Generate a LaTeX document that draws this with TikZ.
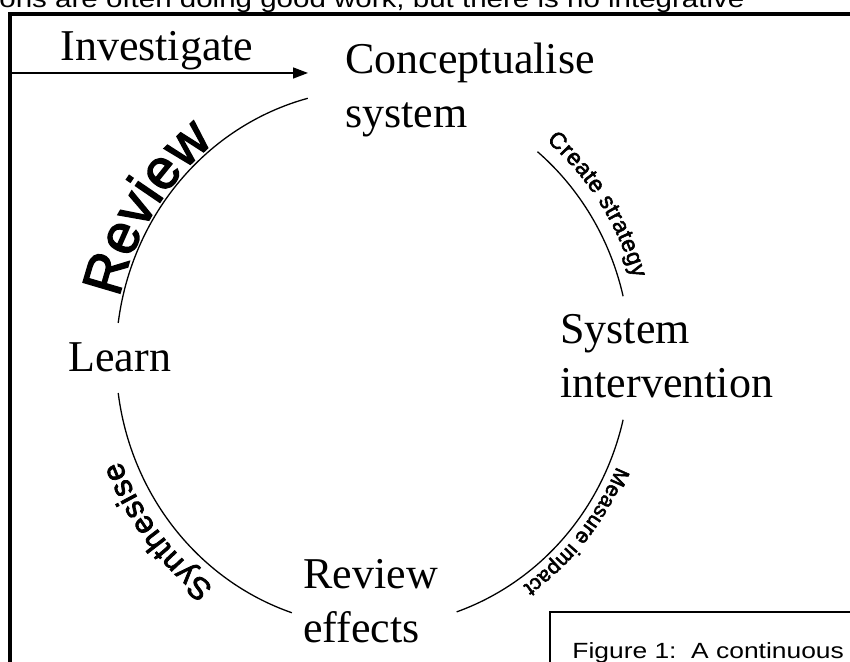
\documentclass[tikz,border=0pt]{standalone}
\usepackage{fontspec}
\setmainfont{Liberation Serif}
\newfontfamily\wafont[FakeBold=2.5]{Liberation Sans}
\newfontfamily\docfont[FakeStretch=1.2]{Liberation Sans}
\usetikzlibrary{positioning}
\usetikzlibrary{arrows.meta}
\usetikzlibrary{decorations.text}
\tikzset{stage/.style={anchor=base west,inner sep=0pt,align=left,font=\fontsize{22}{27}\selectfont}}
\tikzset{flow/.style={-{Triangle[length=7.5pt,width=5.5pt]},line width=0.75pt}}
\tikzset{cyc/.style={x radius=128.5pt,y radius=134.25pt}}
\tikzset{wordart/.style={decorate,decoration={text along path,text align=center,#1}}}
\tikzset{doc/.style={anchor=base west,inner sep=0pt}}

\begin{document}
\begin{tikzpicture}[x=0.5pt,y=0.5pt]
\useasboundingbox (0,0) rectangle (850,662);
\clip (0,0) rectangle (850,662);
\fill[white] (0,0) rectangle (850,662);

% page text and frames
\node[doc,font=\docfont\fontsize{12.3}{14}\selectfont] (top) at (-1,654) {ons are often doing good work, but there is no integrative};
\draw[line width=1.75pt] (10,648) rectangle (900,-60);
\draw[line width=0.7pt] (550,50) rectangle (900,-60);
\node[doc,font=\docfont\fontsize{11}{13}\selectfont] (caption) at (572,3) {Figure 1:\ \ A continuous};

% stages (base = last line)
\node[stage] (invest) at (60,601) {Investigate};
\node[stage] (concept) at (345,534) {Conceptualise\\system};
\node[stage] (sysint) at (560,264) {System\\intervention};
\node[stage] (effects) at (303,19) {Review\\effects};
\node[stage] (learn) at (68,290) {Learn};

\coordinate (c) at (373,304);
\coordinate (entry) at (12,589);
\draw[flow] (entry) -- ([xshift=-18.5pt]entry -| concept.west);

% the cycle
\begin{scope}[line width=0.65pt]
\draw ([shift={(104.7:128.5pt and 134.25pt)}]c) arc[cyc,start angle=104.7,end angle=172.5];
\draw ([shift={(187.5:128.5pt and 134.25pt)}]c) arc[cyc,start angle=187.5,end angle=251.6];
\draw ([shift={(289:128.5pt and 134.25pt)}]c) arc[cyc,start angle=289,end angle=346.7];
\draw ([shift={(13.3:128.5pt and 134.25pt)}]c) arc[cyc,start angle=13.3,end angle=50.2];
\end{scope}

% labels round the cycle
\path[wordart={text={|\wafont\fontsize{28}{28}\selectfont|Review},raise=1.5pt}]
  ([shift={(190:128.5pt and 134.25pt)}]c) arc[cyc,start angle=190,end angle=104];
\path[wordart={text={|\wafont\fontsize{11.5}{11.5}\selectfont|Create strategy},raise=7pt}]
  ([shift={(60:128.5pt and 134.25pt)}]c) arc[cyc,start angle=60,end angle=7];
\path[wordart={text={|\wafont\fontsize{10.5}{10.5}\selectfont|Measure impact},raise=4pt}]
  ([shift={(350:128.5pt and 134.25pt)}]c) arc[cyc,start angle=350,end angle=291];
\path[wordart={text={|\wafont\fontsize{15.5}{15.5}\selectfont|Synthesise},raise=7pt}]
  ([shift={(250:128.5pt and 134.25pt)}]c) arc[cyc,start angle=250,end angle=186];

\end{tikzpicture}
\end{document}
